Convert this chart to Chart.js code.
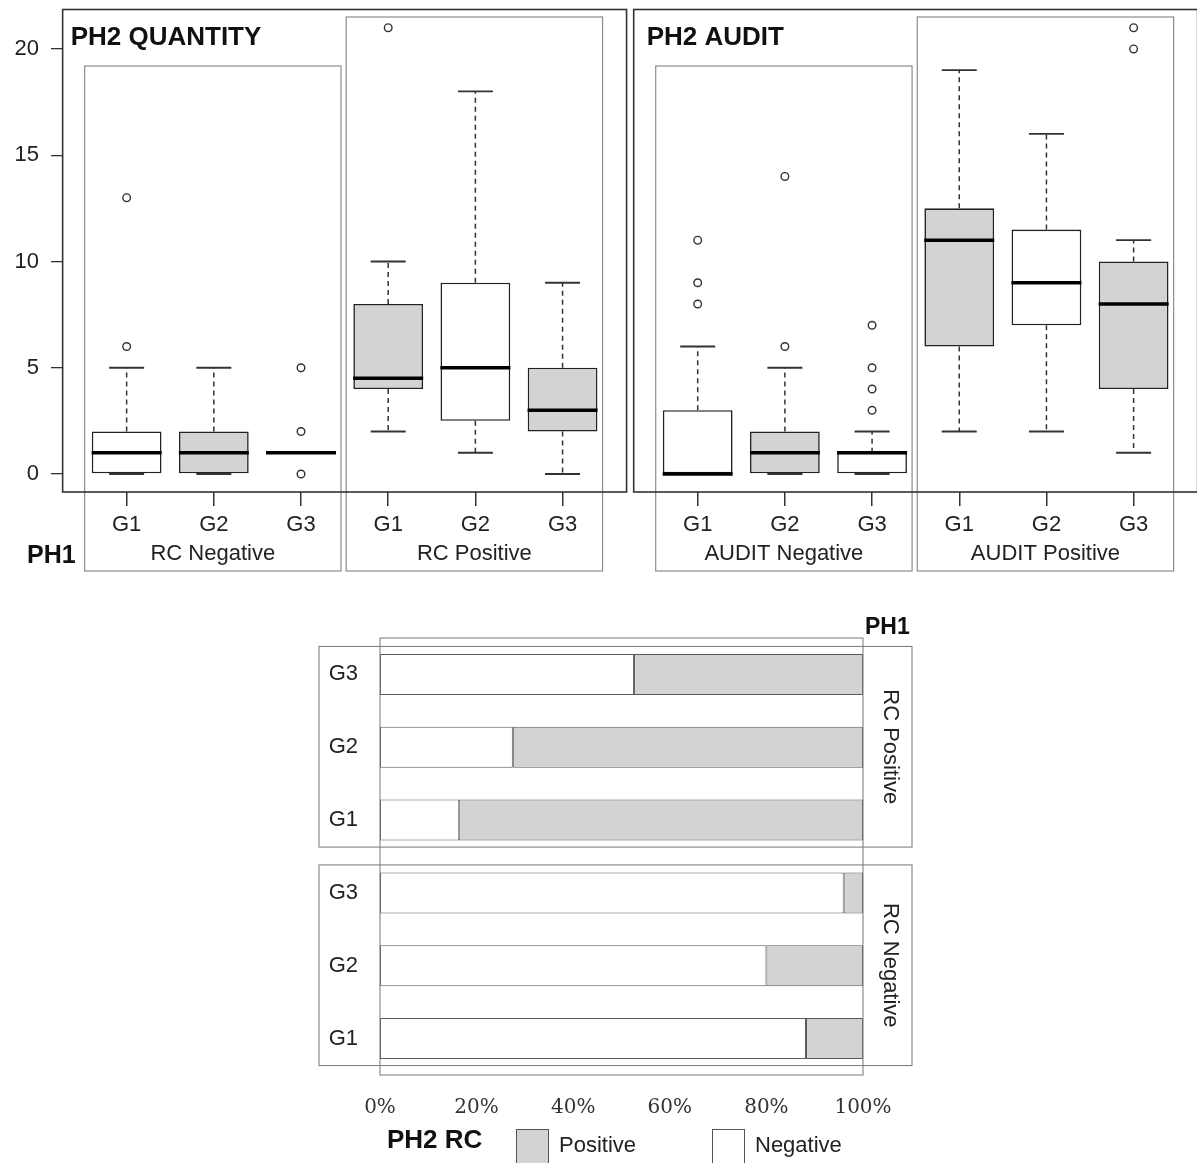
<!DOCTYPE html>
<html><head><meta charset="utf-8">
<script src="https://cdn.jsdelivr.net/npm/chart.js@4/dist/chart.umd.min.js"></script>
<style>
html,body{margin:0;padding:0;background:#fff;}
#wrap{position:relative;width:1197px;height:1163px;overflow:hidden;background:#fff;}
canvas{position:absolute;left:0;}
#top{top:0;}
#bot{top:590px;}
</style></head><body>
<div id="wrap"><canvas id="top" width="1197" height="590"></canvas><canvas id="bot" width="1197" height="573"></canvas></div>
<script>
// ---------------- DATA ----------------
const groupLabels = ['G1', 'G2', 'G3'];
const panelTitles = ['PH2 QUANTITY', 'PH2 AUDIT'];
const qtySubgroups = ['RC Negative', 'RC Positive'];
const auditSubgroups = ['AUDIT Negative', 'AUDIT Positive'];
const yTicks = [0, 5, 10, 15, 20];

// PH2 QUANTITY (RC Negative G1..G3, RC Positive G1..G3)
const qtyMin = [0, 0, 1, 2, 1, 0];
const qtyQ1 = [0, 0, 1, 4, 2.5, 2];
const qtyMed = [1, 1, 1, 4.5, 5, 3];
const qtyQ3 = [2, 2, 1, 8, 9, 5];
const qtyMax = [5, 5, 1, 10, 18, 9];
const qtyOutliers = [[6, 13], [], [0, 2, 5], [21], [], []];

// PH2 AUDIT (AUDIT Negative G1..G3, AUDIT Positive G1..G3)
const auditMin = [0, 0, 0, 2, 2, 1];
const auditQ1 = [0, 0, 0, 6, 7, 4];
const auditMed = [0, 1, 1, 11, 9, 8];
const auditQ3 = [3, 2, 1, 12.5, 11.5, 10];
const auditMax = [6, 5, 2, 19, 16, 11];
const auditOutliers = [[8, 9, 11], [6, 14], [3, 4, 5, 7], [], [], [20, 21]];

// PH2 RC stacked percentages (top to bottom)
const rcCategories = ['G3', 'G2', 'G1', 'G3', 'G2', 'G1'];
const rcFacets = ['RC Positive', 'RC Negative'];
const rcNegative = [52.6, 27.5, 16.4, 96.0, 80.0, 88.2];
const rcPositive = [47.4, 72.5, 83.6, 4.0, 20.0, 11.8];
const pctTicks = [0, 20, 40, 60, 80, 100];
const legendTitle = 'PH2 RC';
const legendItems = ['Positive', 'Negative'];
const facetTitle = 'PH1';

// ---------------- STYLE / LAYOUT ----------------
Chart.defaults.font.family = "'Liberation Sans', Arial, sans-serif";
const GRAY = '#d3d3d3';
const INK = '#222';
const PANEL_GAP = 0.55;
const pos = (p, j) => 1 + j + p * (6 + PANEL_GAP);
const panels = [
  {min: qtyMin, q1: qtyQ1, med: qtyMed, q3: qtyQ3, max: qtyMax, out: qtyOutliers, subs: qtySubgroups, title: panelTitles[0]},
  {min: auditMin, q1: auditQ1, med: auditMed, q3: auditQ3, max: auditMax, out: auditOutliers, subs: auditSubgroups, title: panelTitles[1]}
];
const boxPositions = [];
const boxData = [];
const boxFill = [];
const outlierData = [];
panels.forEach((p, pi) => {
  for (let j = 0; j < 6; j++) {
    const x = pos(pi, j);
    boxPositions.push(x);
    boxData.push({x: x, y: [p.q1[j], p.q3[j]]});
    boxFill.push(j % 2 ? GRAY : '#ffffff');
    p.out[j].forEach(v => outlierData.push({x: x, y: v}));
  }
});
const zeroPad = s => { s.paddingTop = 0; s.paddingBottom = 0; s.paddingLeft = 0; s.paddingRight = 0; };

const topDecor = {
  id: 'topDecor',
  beforeDatasetsDraw(chart) {
    const {ctx, scales: {x}, chartArea: ca} = chart;
    ctx.save();
    panels.forEach((p, pi) => {
      for (let s = 0; s < 2; s++) {
        const a = x.getPixelForValue(pos(pi, s * 3)) - 42;
        const b = x.getPixelForValue(pos(pi, s * 3 + 2)) + 40;
        const top = s === 0 ? 66 : 17;
        ctx.strokeStyle = '#8c8c8c'; ctx.lineWidth = 1.2;
        ctx.strokeRect(a, top, b - a, 571 - top);
      }
      const L = x.getPixelForValue(pos(pi, 0)) - 64;
      const R = x.getPixelForValue(pos(pi, 5)) + 64;
      ctx.strokeStyle = '#333'; ctx.lineWidth = 1.6;
      ctx.strokeRect(L, ca.top + 0.5, R - L, ca.bottom - ca.top - 0.5);
    });
    ctx.restore();
  },
  afterDatasetsDraw(chart) {
    const {ctx, scales: {x, y}} = chart;
    ctx.save();
    panels.forEach((p, pi) => {
      for (let j = 0; j < 6; j++) {
        const cx = x.getPixelForValue(pos(pi, j));
        const yq1 = y.getPixelForValue(p.q1[j]), yq3 = y.getPixelForValue(p.q3[j]);
        const ymin = y.getPixelForValue(p.min[j]), ymax = y.getPixelForValue(p.max[j]);
        const ymed = y.getPixelForValue(p.med[j]);
        ctx.strokeStyle = '#333'; ctx.lineWidth = 1.5;
        ctx.setLineDash([5, 4]);
        ctx.beginPath();
        ctx.moveTo(cx, yq3); ctx.lineTo(cx, ymax);
        ctx.moveTo(cx, yq1); ctx.lineTo(cx, ymin);
        ctx.stroke();
        ctx.setLineDash([]);
        ctx.lineWidth = 1.8;
        ctx.beginPath();
        ctx.moveTo(cx - 17.5, ymax); ctx.lineTo(cx + 17.5, ymax);
        ctx.moveTo(cx - 17.5, ymin); ctx.lineTo(cx + 17.5, ymin);
        ctx.stroke();
        ctx.strokeStyle = '#000'; ctx.lineWidth = 3.5;
        ctx.beginPath();
        ctx.moveTo(cx - 35, ymed); ctx.lineTo(cx + 35, ymed);
        ctx.stroke();
      }
    });
    ctx.restore();
  },
  afterDraw(chart) {
    const {ctx, scales: {x}} = chart;
    ctx.save();
    ctx.textBaseline = 'middle';
    panels.forEach((p, pi) => {
      const L = x.getPixelForValue(pos(pi, 0)) - 64;
      ctx.font = "bold 26px 'Liberation Sans', Arial, sans-serif";
      ctx.textAlign = 'left';
      ctx.fillStyle = '#111';
      ctx.fillText(p.title, L + (pi ? 13 : 8), 38);
      ctx.font = "22px 'Liberation Sans', Arial, sans-serif";
      ctx.textAlign = 'center';
      ctx.fillStyle = '#222';
      for (let s = 0; s < 2; s++) {
        const a = x.getPixelForValue(pos(pi, s * 3)) - 42;
        const b = x.getPixelForValue(pos(pi, s * 3 + 2)) + 40;
        ctx.fillText(p.subs[s], (a + b) / 2, 554);
      }
    });
    ctx.fillStyle = '#111';
    ctx.font = "bold 25px 'Liberation Sans', Arial, sans-serif";
    ctx.textAlign = 'left';
    ctx.fillText(facetTitle, 27, 556);
    ctx.restore();
  }
};

new Chart(document.getElementById('top'), {
  type: 'bar',
  data: {
    datasets: [
      {type: 'bar', data: boxData, backgroundColor: boxFill, borderColor: INK, borderWidth: 1.6,
       borderSkipped: false, barPercentage: 0.8, categoryPercentage: 1, order: 2},
      {type: 'scatter', data: outlierData, pointRadius: 3.8, pointBorderWidth: 1.4,
       pointBackgroundColor: '#fff', pointBorderColor: '#333', showLine: false, order: 1}
    ]
  },
  options: {
    responsive: false, animation: false, events: [],
    layout: {padding: {top: 9, right: 0, bottom: 0, left: 0}},
    plugins: {legend: {display: false}, tooltip: {enabled: false}},
    scales: {
      x: {
        type: 'linear', min: 0.27, max: 13.215, offset: false,
        grid: {display: true, offset: false, drawOnChartArea: false, drawTicks: true, tickLength: 14, color: '#333', lineWidth: 1.5},
        border: {display: false},
        ticks: {autoSkip: false, maxRotation: 0, padding: 6, color: '#222', font: {size: 22},
                callback: (v, i) => groupLabels[i % 3]},
        afterBuildTicks: s => { s.ticks = boxPositions.map(v => ({value: v})); },
        afterFit: s => { s.height = 98; zeroPad(s); }
      },
      y: {
        type: 'linear', min: -0.847, max: 21.88,
        grid: {display: true, drawOnChartArea: false, drawTicks: true, tickLength: 12, color: '#333', lineWidth: 1.3},
        border: {display: false},
        ticks: {padding: 12, color: '#222', font: {size: 22}},
        afterBuildTicks: s => { s.ticks = yTicks.map(v => ({value: v})); },
        afterFit: s => { s.width = 63; zeroPad(s); }
      }
    }
  },
  plugins: [topDecor]
});

// ---------------- BOTTOM: stacked percentage bars ----------------
const botDecor = {
  id: 'botDecor',
  afterDraw(chart) {
    const {ctx, scales: {y}, chartArea: ca} = chart;
    ctx.save();
    ctx.strokeStyle = '#777'; ctx.lineWidth = 1;
    ctx.strokeRect(ca.left, ca.top, ca.right - ca.left, ca.bottom - ca.top);
    rcFacets.forEach((f, fi) => {
      const top = y.getPixelForValue(fi * 3) - 28;
      const bot = y.getPixelForValue(fi * 3 + 2) + 27;
      const L = ca.left - 61, R = ca.right + 49;
      ctx.strokeStyle = '#777'; ctx.lineWidth = 1;
      ctx.strokeRect(L, top, R - L, bot - top);
      ctx.save();
      ctx.translate(ca.right + 27, (top + bot) / 2);
      ctx.rotate(Math.PI / 2);
      ctx.fillStyle = '#222';
      ctx.font = "22px 'Liberation Sans', Arial, sans-serif";
      ctx.textAlign = 'center'; ctx.textBaseline = 'middle';
      ctx.fillText(f, 0, 0);
      ctx.restore();
    });
    ctx.fillStyle = '#111';
    ctx.textBaseline = 'middle'; ctx.textAlign = 'left';
    ctx.font = "bold 23px 'Liberation Sans', Arial, sans-serif";
    ctx.fillText(facetTitle, ca.right + 2, ca.top - 10);
    ctx.font = "bold 26px 'Liberation Sans', Arial, sans-serif";
    ctx.fillText(legendTitle, 387, 551);
    ctx.font = "22px 'Liberation Sans', Arial, sans-serif";
    const sw = [[516, GRAY], [712, '#ffffff']];
    legendItems.forEach((t, i) => {
      ctx.fillStyle = sw[i][1];
      ctx.fillRect(sw[i][0], 539, 32, 40);
      ctx.strokeStyle = '#555'; ctx.lineWidth = 1;
      ctx.strokeRect(sw[i][0] + 0.5, 539.5, 32, 40);
      ctx.fillStyle = '#222';
      ctx.fillText(t, sw[i][0] + 43, 556);
    });
    ctx.restore();
  }
};

new Chart(document.getElementById('bot'), {
  type: 'bar',
  data: {
    labels: rcCategories,
    datasets: [
      {label: legendItems[1], data: rcNegative, backgroundColor: '#ffffff', borderColor: '#5a5a5a', borderWidth: 1, borderSkipped: false},
      {label: legendItems[0], data: rcPositive, backgroundColor: GRAY, borderColor: '#5a5a5a', borderWidth: 1, borderSkipped: false}
    ]
  },
  options: {
    indexAxis: 'y', responsive: false, animation: false, events: [],
    layout: {padding: {top: 48, right: 334, bottom: 0, left: 0}},
    plugins: {legend: {display: false}, tooltip: {enabled: false}},
    datasets: {bar: {barPercentage: 0.563, categoryPercentage: 1}},
    scales: {
      x: {
        stacked: true, min: 0, max: 100,
        grid: {display: false, drawTicks: false}, border: {display: false},
        ticks: {padding: 21, color: '#333', font: {family: "'DejaVu Serif', serif", size: 20},
                callback: v => v + '%'},
        afterBuildTicks: s => { s.ticks = pctTicks.map(v => ({value: v})); },
        afterFit: s => { s.height = 88; zeroPad(s); }
      },
      y: {
        stacked: true,
        grid: {display: false, drawTicks: false}, border: {display: false},
        ticks: {padding: 22, color: '#222', font: {size: 22}},
        afterFit: s => { s.width = 380; zeroPad(s); }
      }
    }
  },
  plugins: [botDecor]
});
</script>
</body></html>
